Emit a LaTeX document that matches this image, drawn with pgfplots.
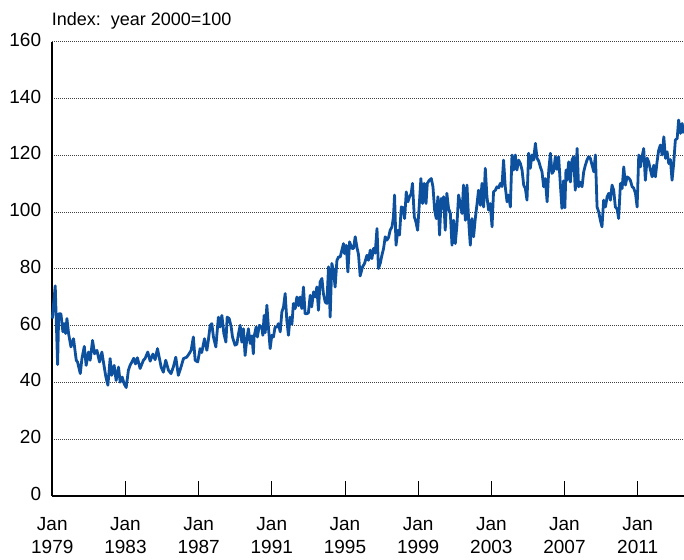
\documentclass[border=0pt]{standalone}
\usepackage{pgfplots}
\pgfplotsset{compat=1.18}
\usepackage{fontspec}
\setmainfont{Liberation Sans}
\definecolor{lineblue}{RGB}{13,80,158}
\begin{document}
\begin{tikzpicture}
\begin{axis}[
  at={(0,0)}, anchor=south west,
  scale only axis, width=632pt, height=454.3pt,
  xmin=1979, xmax=2013.55, ymin=0, ymax=160,
  axis x line*=bottom, axis y line*=left,
  axis line style={-, line width=2pt, black},
  ytick={0,20,...,160},
  xtick={1979,1983,1987,1991,1995,1999,2003,2007,2011},
  xticklabels={{Jan\\1979},{Jan\\1983},{Jan\\1987},{Jan\\1991},{Jan\\1995},{Jan\\1999},{Jan\\2003},{Jan\\2007},{Jan\\2011}},
  tick align=inside,
  major tick length=15pt,
  xtick style={line width=0.8pt, black},
  ytick style={draw=none},
  ymajorgrids,
  major grid style={line width=0.9pt, black!75, dash pattern=on 1pt off 1pt},
  /pgf/number format/assume math mode=true,
  yticklabel style={font=\fontsize{19}{23}\selectfont, anchor=east, inner sep=0pt, xshift=-11pt, yshift=2pt},
  xticklabel style={font=\fontsize{19}{23.3}\selectfont, align=center, anchor=north, inner sep=0pt, yshift=-21pt},
  clip=false,
]
\addplot[lineblue, line width=2.8pt, line join=round] coordinates {
(1979.00,62.5)(1979.16,74.0)(1979.29,46.3)(1979.35,64.2)(1979.47,64.2)(1979.58,57.8)(1979.65,60.7)(1979.73,57.2)(1979.80,62.5)(1979.89,57.2)
(1980.02,52.5)(1980.16,55.4)(1980.31,47.8)(1980.38,47.2)(1980.53,43.1)(1980.62,48.4)(1980.75,52.7)(1980.85,46.0)(1980.98,50.7)
(1981.07,47.8)(1981.20,54.8)(1981.31,50.1)(1981.44,51.3)(1981.58,47.2)(1981.71,50.7)(1981.80,47.0)(1981.93,41.9)
(1982.04,39.0)(1982.16,48.4)(1982.25,42.5)(1982.38,46.0)(1982.49,40.7)(1982.62,45.4)(1982.71,40.1)(1982.82,41.9)(1982.93,39.5)
(1983.04,38.2)(1983.16,44.3)(1983.25,46.0)(1983.35,47.2)(1983.45,48.5)(1983.55,46.5)(1983.65,48.7)(1983.80,44.9)(1983.98,47.8)
(1984.07,48.4)(1984.22,50.7)(1984.35,47.5)(1984.50,50.0)(1984.62,48.0)(1984.75,51.9)(1984.95,45.4)
(1985.07,43.6)(1985.20,47.8)(1985.35,44.3)(1985.49,43.1)(1985.62,45.5)(1985.75,48.9)(1985.89,42.5)
(1986.04,45.5)(1986.17,48.4)(1986.35,48.9)(1986.48,50.1)(1986.59,51.3)(1986.71,56.0)(1986.81,47.8)(1986.95,47.2)
(1987.08,51.9)(1987.17,50.5)(1987.32,55.4)(1987.45,51.3)(1987.53,54.8)(1987.63,60.1)(1987.72,60.7)(1987.81,56.0)(1987.94,52.5)
(1988.08,63.0)(1988.17,59.5)(1988.27,63.6)(1988.38,57.2)(1988.49,54.2)(1988.56,63.0)(1988.67,62.5)(1988.78,59.5)(1988.85,56.0)(1988.99,53.1)
(1989.09,53.5)(1989.18,57.2)(1989.27,60.1)(1989.36,54.2)(1989.45,58.9)(1989.54,49.5)(1989.63,55.0)(1989.72,58.9)(1989.82,53.7)(1989.91,56.4)(1989.99,50.1)
(1990.03,56.0)(1990.14,59.5)(1990.21,56.0)(1990.32,60.1)(1990.45,59.5)(1990.51,56.6)(1990.58,63.6)(1990.64,57.5)(1990.73,67.2)(1990.82,59.0)(1990.91,51.9)
(1991.00,56.6)(1991.09,56.0)(1991.18,59.5)(1991.28,59.5)(1991.36,60.7)(1991.46,57.8)(1991.55,64.8)(1991.64,66.6)(1991.73,71.3)(1991.82,61.9)(1991.91,56.6)
(1992.00,63.0)(1992.10,60.5)(1992.18,67.8)(1992.28,66.0)(1992.37,70.1)(1992.46,67.0)(1992.55,70.1)(1992.64,66.0)(1992.73,73.6)(1992.82,64.2)(1992.91,64.2)
(1993.00,64.5)(1993.10,70.7)(1993.18,66.6)(1993.28,71.9)(1993.37,70.1)(1993.46,73.6)(1993.55,65.4)(1993.64,75.4)(1993.74,76.6)(1993.82,71.3)(1993.92,68.3)
(1994.01,67.8)(1994.10,80.7)(1994.19,63.0)(1994.28,81.9)(1994.37,79.5)(1994.46,73.6)(1994.56,83.0)(1994.65,84.2)(1994.74,84.2)(1994.83,86.6)(1994.92,88.9)(1994.97,85.4)
(1995.07,88.3)(1995.16,78.9)(1995.25,89.5)(1995.38,87.2)(1995.47,87.2)(1995.56,91.3)(1995.65,87.7)(1995.74,85.0)(1995.83,77.5)(1995.96,80.7)
(1996.07,81.9)(1996.20,84.8)(1996.29,83.0)(1996.38,86.6)(1996.47,83.6)(1996.56,87.2)(1996.65,85.5)(1996.75,94.2)(1996.83,80.1)(1996.93,82.0)
(1997.02,84.8)(1997.11,87.2)(1997.20,91.3)(1997.29,90.1)(1997.38,91.0)(1997.47,93.6)(1997.57,94.8)(1997.65,98.3)(1997.71,106.0)(1997.79,88.3)(1997.89,93.6)(1997.98,91.9)
(1998.08,101.8)(1998.17,101.5)(1998.26,97.7)(1998.35,107.1)(1998.44,103.6)(1998.53,105.4)(1998.62,106.5)(1998.69,110.1)(1998.79,98.3)(1998.88,96.5)(1998.97,93.6)
(1999.06,102.4)(1999.15,111.8)(1999.24,103.0)(1999.33,110.1)(1999.43,103.0)(1999.50,110.1)(1999.61,111.2)(1999.72,111.8)(1999.81,108.9)(1999.90,100.7)(1999.99,97.7)
(2000.08,105.4)(2000.17,91.9)(2000.26,104.8)(2000.34,101.3)(2000.39,105.4)(2000.48,93.6)(2000.57,106.6)(2000.66,101.3)(2000.76,99.5)(2000.85,88.3)(2000.94,97.1)
(2001.03,88.9)(2001.12,95.4)(2001.21,106.0)(2001.30,103.0)(2001.40,99.5)(2001.48,109.5)(2001.58,97.1)(2001.67,109.5)(2001.76,97.1)(2001.85,88.3)(2001.94,97.7)
(2002.03,91.3)(2002.12,97.5)(2002.22,103.0)(2002.30,107.7)(2002.40,102.4)(2002.49,110.1)(2002.58,101.8)(2002.67,115.4)(2002.76,105.4)(2002.85,100.7)(2002.94,103.0)
(2003.04,94.8)(2003.12,107.1)(2003.22,107.7)(2003.31,108.9)(2003.40,108.5)(2003.49,110.1)(2003.58,109.0)(2003.67,118.3)(2003.76,109.0)(2003.86,103.6)(2003.94,106.0)
(2004.04,101.8)(2004.13,120.1)(2004.22,114.8)(2004.31,120.1)(2004.40,114.8)(2004.49,118.3)(2004.59,117.1)(2004.68,114.8)(2004.77,109.5)(2004.86,108.3)(2004.95,104.2)
(2005.04,120.7)(2005.13,115.4)(2005.22,120.1)(2005.31,118.3)(2005.41,124.2)(2005.50,118.9)(2005.59,118.0)(2005.68,115.9)(2005.77,114.2)(2005.86,108.9)(2005.95,111.8)
(2006.05,103.6)(2006.14,114.8)(2006.23,120.7)(2006.32,113.6)(2006.41,114.5)(2006.50,119.5)(2006.59,115.0)(2006.68,119.5)(2006.77,110.1)(2006.86,101.3)(2006.95,111.0)
(2007.02,101.5)(2007.08,114.8)(2007.14,111.2)(2007.23,117.7)(2007.32,110.6)(2007.41,118.3)(2007.50,119.5)(2007.59,107.7)(2007.69,122.4)(2007.77,108.9)(2007.87,110.5)(2007.96,108.9)
(2008.05,114.2)(2008.14,116.5)(2008.23,118.3)(2008.32,119.5)(2008.41,119.0)(2008.51,116.5)(2008.60,114.2)(2008.69,120.1)(2008.78,101.8)(2008.87,100.1)(2008.96,97.1)
(2009.05,94.8)(2009.14,104.2)(2009.24,101.8)(2009.33,105.4)(2009.42,106.6)(2009.51,104.2)(2009.60,109.5)(2009.69,107.7)(2009.78,101.8)(2009.88,101.0)(2009.96,97.7)
(2010.06,110.1)(2010.15,108.3)(2010.24,115.9)(2010.33,109.5)(2010.42,112.4)(2010.51,112.0)(2010.60,111.2)(2010.70,108.9)(2010.78,108.5)(2010.88,106.6)(2010.97,101.8)
(2011.06,120.1)(2011.15,115.9)(2011.24,119.5)(2011.33,122.4)(2011.42,111.2)(2011.52,119.0)(2011.60,117.7)(2011.70,114.8)(2011.79,112.4)(2011.88,116.5)(2011.97,112.4)
(2012.06,117.7)(2012.15,121.8)(2012.24,123.6)(2012.34,120.1)(2012.43,126.5)(2012.52,118.9)(2012.61,121.2)(2012.70,117.1)(2012.79,118.5)(2012.88,111.2)(2012.97,117.1)
(2013.06,125.4)(2013.16,125.9)(2013.24,132.4)(2013.34,127.7)(2013.43,131.2)(2013.52,127.7)
};
\end{axis}
\node[anchor=base west, inner sep=0pt, font=\fontsize{18}{21}\selectfont] at (-0.6pt,470pt) {Index:\ \ year 2000=100};
\pgfresetboundingbox
\path (-52.3pt,-63pt) rectangle (631.7pt,496pt);
\end{tikzpicture}
\end{document}
